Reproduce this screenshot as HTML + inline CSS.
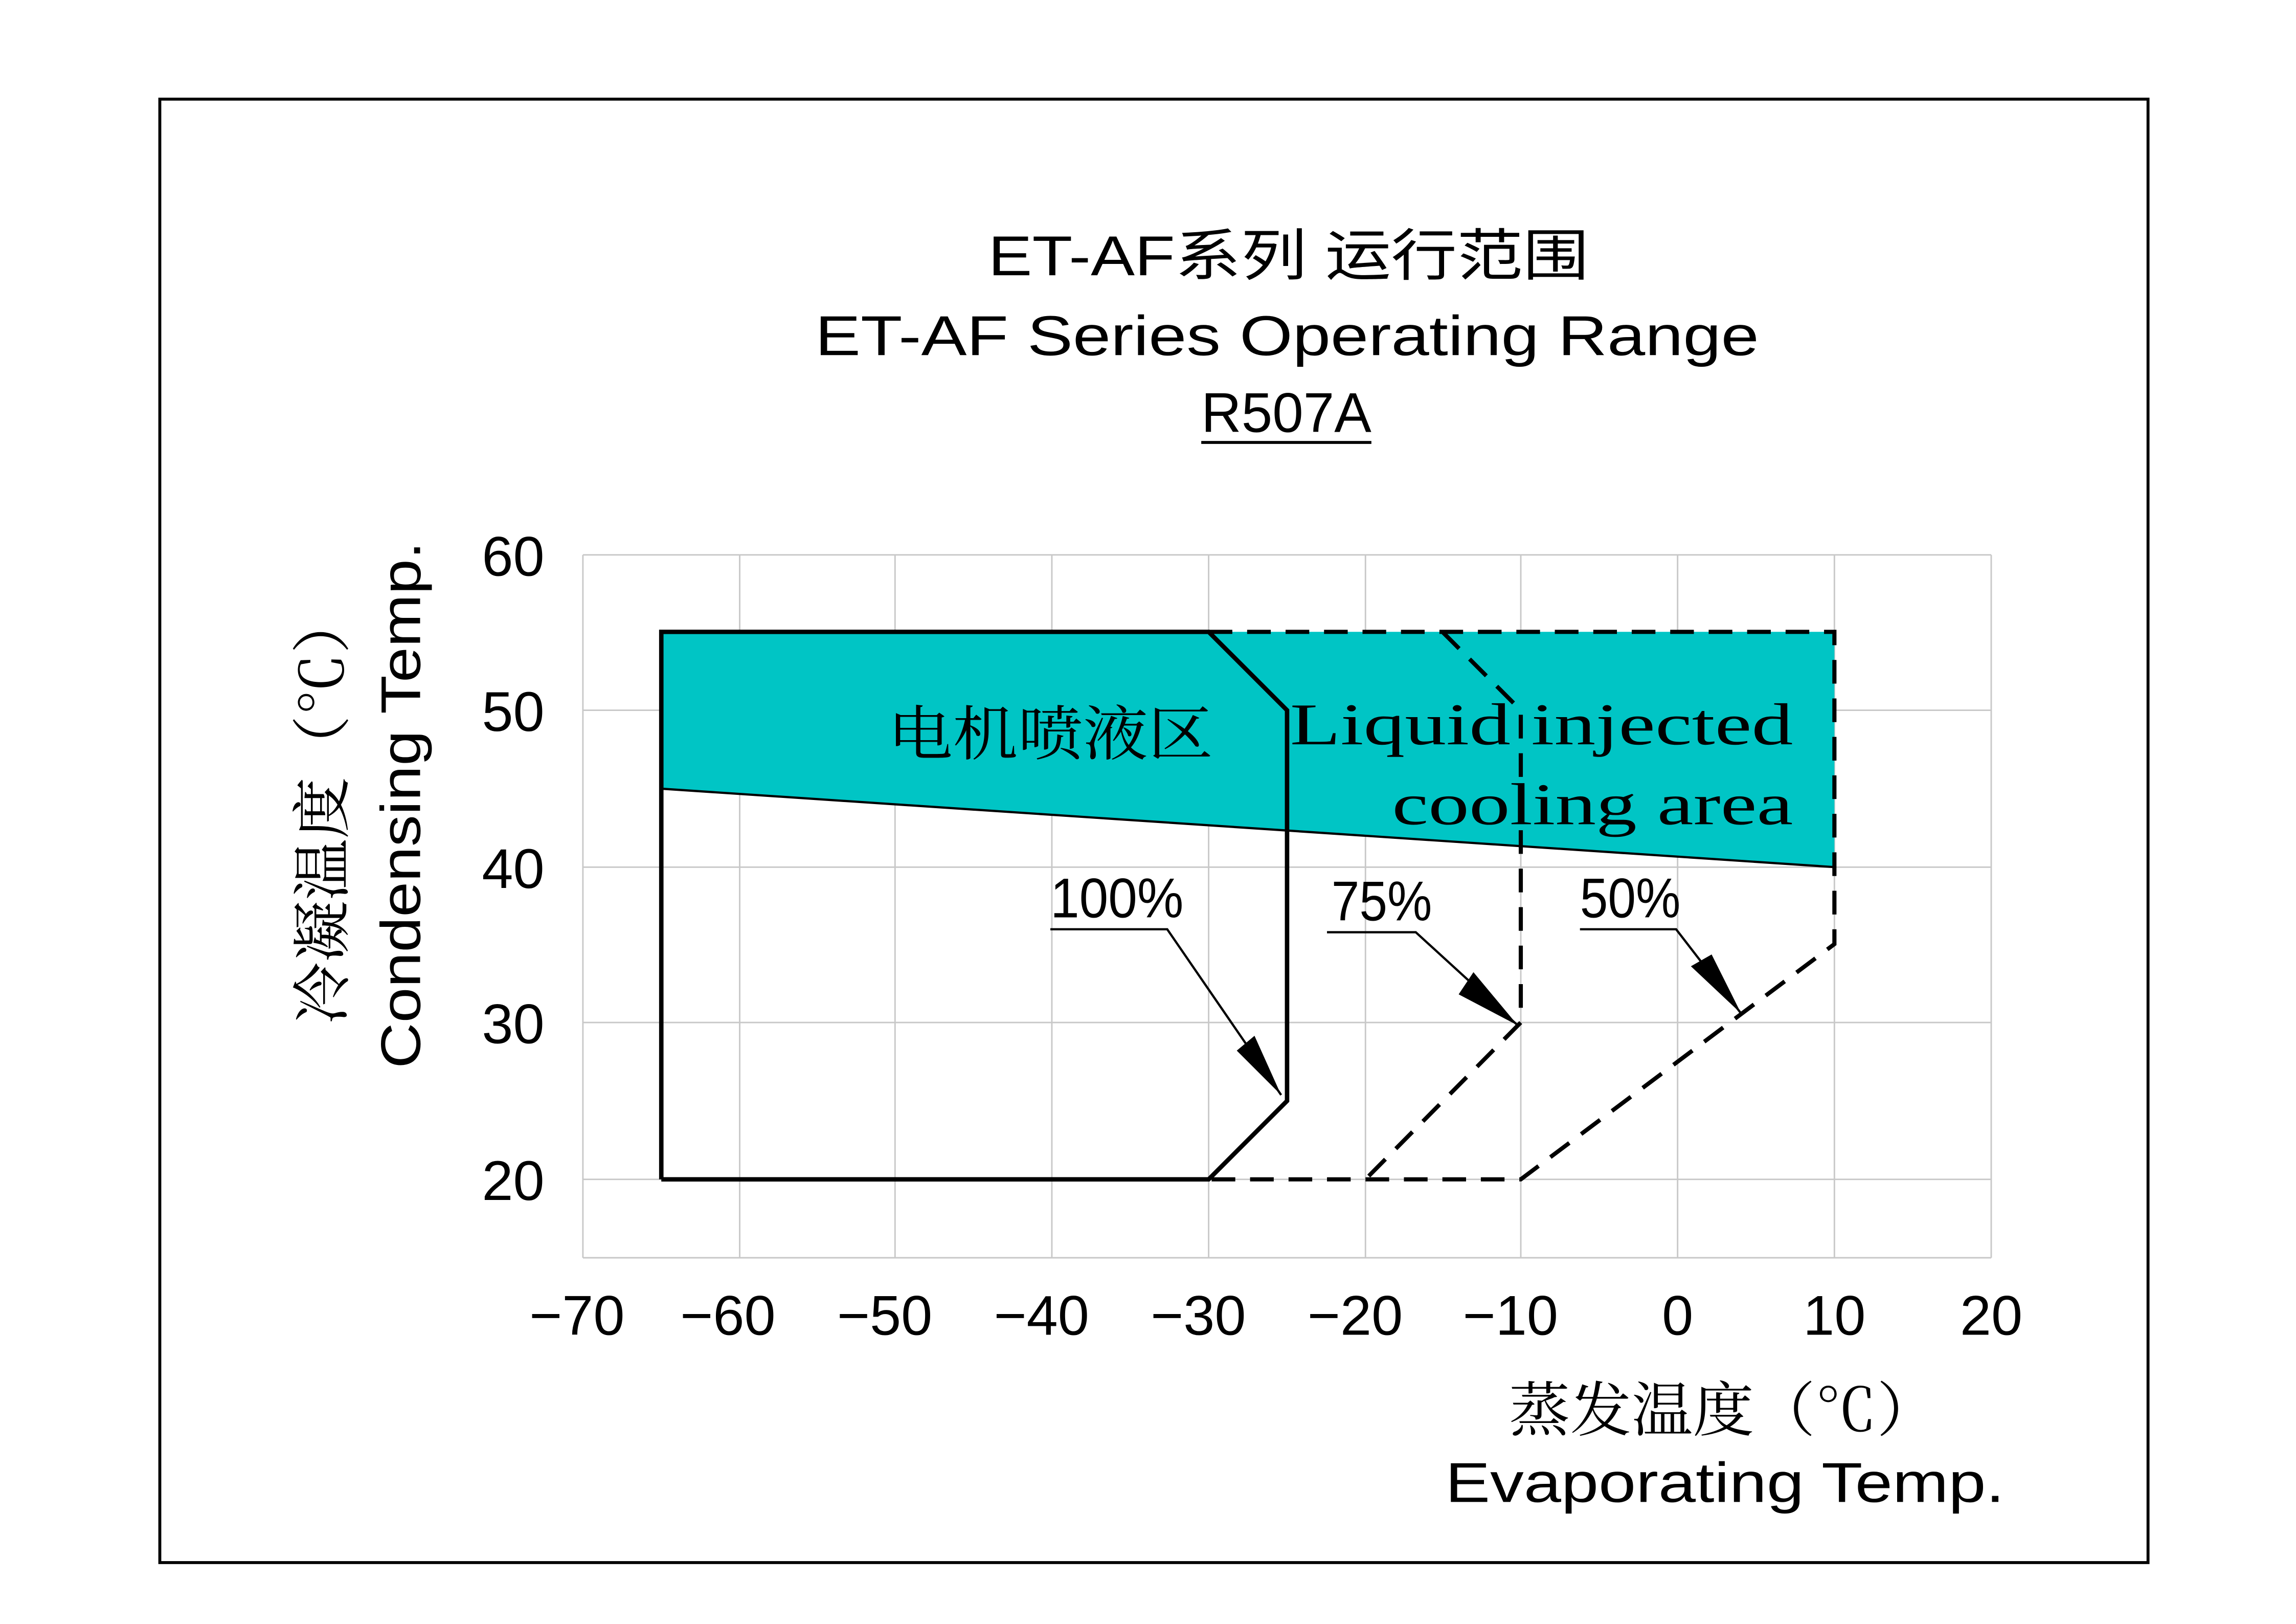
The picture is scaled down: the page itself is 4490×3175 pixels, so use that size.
<!DOCTYPE html>
<html><head><meta charset="utf-8"><style>html,body{margin:0;padding:0;background:#fff}svg{display:block}</style></head><body>
<svg xmlns="http://www.w3.org/2000/svg" width="4490" height="3175" viewBox="0 0 1552 1097.5">
<rect width="1552" height="1097.5" fill="#fff"/>
<rect x="108" y="67" width="1344" height="989" fill="none" stroke="#000" stroke-width="2"/>
<g stroke="#c8c8c8" stroke-width="1">
<line x1="394" y1="375" x2="1346" y2="375"/><line x1="394" y1="480" x2="1346" y2="480"/><line x1="394" y1="586" x2="1346" y2="586"/><line x1="394" y1="691" x2="1346" y2="691"/><line x1="394" y1="797" x2="1346" y2="797"/><line x1="394" y1="850" x2="1346" y2="850"/>
<line x1="394" y1="375" x2="394" y2="850"/><line x1="500" y1="375" x2="500" y2="850"/><line x1="605" y1="375" x2="605" y2="850"/><line x1="711" y1="375" x2="711" y2="850"/><line x1="817" y1="375" x2="817" y2="850"/><line x1="923" y1="375" x2="923" y2="850"/><line x1="1028" y1="375" x2="1028" y2="850"/><line x1="1134" y1="375" x2="1134" y2="850"/><line x1="1240" y1="375" x2="1240" y2="850"/><line x1="1346" y1="375" x2="1346" y2="850"/>
</g>
<polygon points="447,427 1240,427 1240,586 447,533" fill="#00c5c5"/>
<line x1="447" y1="533" x2="1240" y2="586" stroke="#000" stroke-width="1.5"/>
<g fill="none" stroke="#000" stroke-width="2.8" stroke-dasharray="16,10">
<polyline points="817,427 1240,427 1240,638 1028,797 817,797"/>
<polyline points="975,427 1028,480 1028,691 923,797"/>
</g>
<polyline points="447,797 447,427 817,427 870,480 870,744 817,797 447,797" fill="none" stroke="#000" stroke-width="3"/>
<g stroke="#000" stroke-width="1.5" fill="none">
<polyline points="710,628 789,628 866,740"/>
<polyline points="897,630 957,630 1026,693"/>
<polyline points="1068,628 1133,628 1177,685"/>
</g>
<g fill="#000">
<polygon points="866,740 836,710 848,700"/>
<polygon points="1026,693 986,672 996,657"/>
<polygon points="1177,685 1143,653 1157,645"/>
</g>
<g font-family="'Liberation Sans', sans-serif" font-size="38" fill="#000">
<text x="710" y="620" textLength="90" lengthAdjust="spacingAndGlyphs">100%</text>
<text x="900" y="622" textLength="68" lengthAdjust="spacingAndGlyphs">75%</text>
<text x="1068" y="620" textLength="68" lengthAdjust="spacingAndGlyphs">50%</text>
</g>
<g font-family="'Liberation Serif','Noto Serif CJK SC', serif" font-size="40" fill="#000">
<text x="600" y="510" textLength="220" lengthAdjust="spacingAndGlyphs">电机喷液区</text>
<text x="872" y="503" textLength="340" lengthAdjust="spacingAndGlyphs">Liquid injected</text>
<text x="941" y="557" textLength="271" lengthAdjust="spacingAndGlyphs">cooling area</text>
</g>
<g font-family="'Liberation Sans', sans-serif" font-size="38" fill="#000" text-anchor="end">
<text x="368" y="389">60</text><text x="368" y="494">50</text><text x="368" y="600">40</text><text x="368" y="705">30</text><text x="368" y="811">20</text>
</g>
<g font-family="'Liberation Sans', sans-serif" font-size="38" fill="#000" text-anchor="middle">
<text x="390" y="902">−70</text><text x="492" y="902">−60</text><text x="598" y="902">−50</text><text x="704" y="902">−40</text><text x="810" y="902">−30</text><text x="916" y="902">−20</text><text x="1021" y="902">−10</text><text x="1134" y="902">0</text><text x="1240" y="902">10</text><text x="1346" y="902">20</text>
</g>
<g font-family="'Liberation Sans','Noto Sans CJK SC', sans-serif" font-size="38" fill="#000">
<text x="668" y="186" textLength="406" lengthAdjust="spacingAndGlyphs">ET-AF系列 运行范围</text>
<text x="551" y="240" textLength="638" lengthAdjust="spacingAndGlyphs">ET-AF Series Operating Range</text>
<text x="812" y="292" textLength="115" lengthAdjust="spacingAndGlyphs">R507A</text>
<line x1="812" y1="299" x2="927" y2="299" stroke="#000" stroke-width="2"/>
</g>
<g font-family="'Liberation Serif','Noto Serif CJK SC', serif" font-size="40" fill="#000">
<text x="1020" y="967" textLength="290" lengthAdjust="spacingAndGlyphs">蒸发温度（℃）</text>
</g>
<g font-family="'Liberation Sans', sans-serif" font-size="38" fill="#000">
<text x="977" y="1015" textLength="378" lengthAdjust="spacingAndGlyphs">Evaporating Temp.</text>
</g>
<text transform="translate(232,692) rotate(-90)" font-family="'Liberation Serif','Noto Serif CJK SC', serif" font-size="40" textLength="292" lengthAdjust="spacingAndGlyphs">冷凝温度（℃）</text>
<text transform="translate(284,722) rotate(-90)" font-family="'Liberation Sans', sans-serif" font-size="38" textLength="356" lengthAdjust="spacingAndGlyphs">Condensing Temp.</text>
</svg>
</body></html>
